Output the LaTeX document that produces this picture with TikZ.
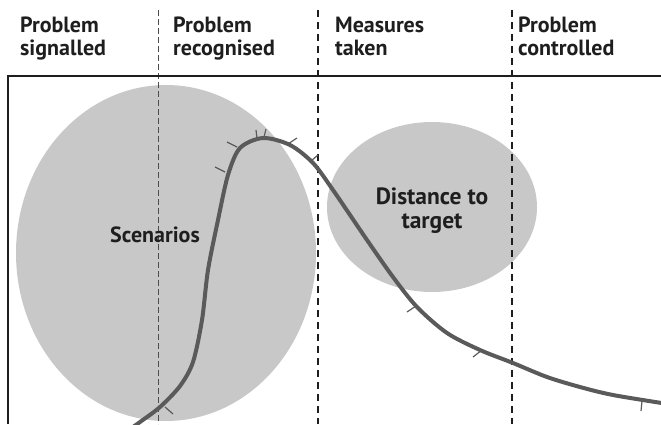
\documentclass[tikz,border=0pt]{standalone}
\usepackage{fontspec}
\setmainfont{PT Sans}
\definecolor{blobgray}{RGB}{200,200,200}
\definecolor{curvegray}{RGB}{90,90,90}
\definecolor{inkblack}{RGB}{30,30,30}
\begin{document}
\begin{tikzpicture}[x=1pt,y=-1pt,
  hdr/.style={anchor=base west, inner sep=0pt, font=\fontsize{22}{25}\selectfont\bfseries, text=inkblack},
  lbl/.style={anchor=base, inner sep=0pt, font=\fontsize{22}{25}\selectfont\bfseries, text=inkblack},
  biglbl/.style={lbl, font=\fontsize{23.5}{26}\selectfont\bfseries},
  blob/.style={fill=blobgray, draw=none},
  divider/.style={line width=1.6pt, dash pattern=on 7pt off 5pt, color=inkblack},
  finedivider/.style={line width=1pt, dash pattern=on 6pt off 3pt, color=black!70},
  frameline/.style={line width=2pt, color=inkblack},
  curve/.style={line width=4pt, color=curvegray, line cap=round},
  thorn/.style={line width=1.2pt, color=curvegray}]
\useasboundingbox (0,0) rectangle (661,424);
% blobs
\fill[blob] (166,253) ellipse [x radius=150, y radius=168];
\fill[blob] (432,207) ellipse [x radius=105, y radius=85];
% dividers
\coordinate (d1t) at (158,10);  \coordinate (d1b) at (158,424);
\coordinate (d2t) at (318,10);  \coordinate (d2b) at (318,424);
\coordinate (d3t) at (512,10);  \coordinate (d3b) at (512,424);
\draw[finedivider] (d1t) -- (d1b);
\draw[divider] (d2t) -- (d2b);
\draw[divider] (d3t) -- (d3b);
% frame
\coordinate (fl) at (8,76); \coordinate (fr) at (661,76); \coordinate (fb) at (8,424);
\draw[frameline] (fr) -- (fl) -- (fb);
% curve
\draw[curve] plot[smooth, tension=0.5] coordinates {(126,432) (140,422) (160,407) (180,386) (193,362) (202,320) (208,270) (218,220) (228,175) (240,148) (263,138) (290,145) (313,163) (333,190) (367,240) (393,277) (417,307) (447,333) (480,350) (513,363) (547,377) (580,387) (613,395) (668,404)};
% thorns
\draw[thorn] (165,407) -- (173,414);
\draw[thorn] (225,172) -- (215,167);
\draw[thorn] (237,147) -- (227,142);
\draw[thorn] (257,138) -- (256,130);
\draw[thorn] (264,137) -- (266,129);
\draw[thorn] (288,144) -- (297,138);
\draw[thorn] (311,161) -- (318,155);
\draw[thorn] (416,306) -- (407,312);
\draw[thorn] (482,350) -- (473,357);
\draw[thorn] (642,401) -- (641,411);
% header texts
\node[hdr] (h1a) at (20,32) {Problem};
\node[hdr] (h1b) at (20,55) {signalled};
\node[hdr] (h2a) at (173,32) {Problem};
\node[hdr] (h2b) at (173,55) {recognised};
\node[hdr] (h3a) at (335,32) {Measures};
\node[hdr] (h3b) at (335,55) {taken};
\node[hdr] (h4a) at (518,32) {Problem};
\node[hdr] (h4b) at (518,55) {controlled};
% labels
\node[lbl, anchor=base east] (sc) at (200,242) {Scenarios};
\node[biglbl] (dt1) at (432,204) {Distance to};
\node[biglbl] (dt2) at (432,228) {target};
\end{tikzpicture}
\end{document}
